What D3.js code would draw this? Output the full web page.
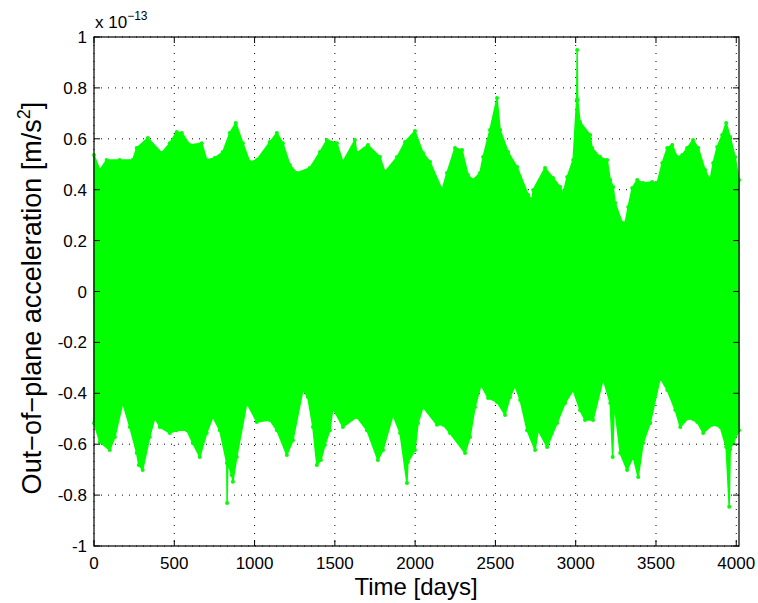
<!DOCTYPE html>
<html>
<head>
<meta charset="utf-8">
<script src="https://cdn.jsdelivr.net/npm/d3@7"></script>
<style>
  html, body { margin: 0; padding: 0; background: #fff; }
  svg { display: block; font-family: "Liberation Sans", Arial, Helvetica, sans-serif; }
</style>
</head>
<body>
<svg id="chart" width="758" height="603"></svg>
<script>
// ---- data (values in units of 1e-13 m/s^2; time in days) ----
const xTicks = [0, 500, 1000, 1500, 2000, 2500, 3000, 3500, 4000];
const xTickLabels = ["0", "500", "1000", "1500", "2000", "2500", "3000", "3500", "4000"];
const yTicks = [-1, -0.8, -0.6, -0.4, -0.2, 0, 0.2, 0.4, 0.6, 0.8, 1];
const yTickLabels = ["-1", "-0.8", "-0.6", "-0.4", "-0.2", "0", "0.2", "0.4", "0.6", "0.8", "1"];
const xMax = 4017;

// upper envelope of the oscillating series
const upperDay = [0,36,79,160,241,266,335,422,472,515,547,597,671,702,752,802,846,883,927,970,1014,1095,1139,1176,1220,1263,1344,1407,1450,1513,1550,1625,1637,1706,1781,1812,1887,1937,1999,2049,2093,2168,2198,2248,2292,2329,2360,2404,2423,2466,2510,2529,2579,2635,2704,2728,2735,2809,2859,2903,2922,2947,2984,3006,3009,3012,3027,3090,3102,3152,3196,3215,3233,3246,3290,3308,3327,3352,3383,3420,3476,3507,3539,3570,3601,3632,3663,3694,3731,3763,3806,3837,3856,3881,3912,3937,3962,3993,4017];
const upperVal = [0.536,0.477,0.517,0.517,0.517,0.564,0.603,0.544,0.583,0.627,0.623,0.576,0.583,0.517,0.525,0.548,0.623,0.662,0.583,0.509,0.517,0.587,0.623,0.583,0.497,0.466,0.485,0.548,0.595,0.583,0.509,0.595,0.544,0.576,0.528,0.470,0.528,0.587,0.631,0.544,0.509,0.399,0.466,0.564,0.556,0.458,0.438,0.466,0.528,0.635,0.760,0.635,0.548,0.489,0.379,0.360,0.399,0.485,0.446,0.411,0.387,0.450,0.517,0.752,0.949,0.752,0.666,0.615,0.564,0.528,0.517,0.438,0.411,0.348,0.269,0.269,0.332,0.407,0.438,0.426,0.430,0.426,0.505,0.564,0.576,0.528,0.536,0.564,0.595,0.564,0.477,0.438,0.505,0.568,0.615,0.662,0.607,0.528,0.438];

// lower envelope of the oscillating series
const lowerDay = [0,36,98,130,179,223,266,279,303,347,378,410,472,515,578,615,659,702,740,783,827,829,833,858,865,889,952,1014,1095,1139,1201,1239,1301,1332,1363,1388,1413,1438,1469,1488,1550,1637,1700,1768,1800,1862,1906,1949,1955,1999,2018,2049,2136,2174,2217,2311,2342,2373,2410,2454,2510,2560,2591,2622,2654,2697,2747,2766,2822,2884,2934,2984,3027,3058,3108,3171,3215,3230,3240,3277,3320,3358,3389,3420,3464,3526,3570,3620,3651,3701,3757,3794,3850,3900,3937,3956,3962,3981,4017];
const lowerVal = [-0.517,-0.591,-0.623,-0.572,-0.438,-0.532,-0.635,-0.682,-0.701,-0.572,-0.497,-0.532,-0.556,-0.545,-0.545,-0.595,-0.650,-0.556,-0.493,-0.545,-0.674,-0.831,-0.674,-0.721,-0.748,-0.650,-0.438,-0.513,-0.505,-0.545,-0.642,-0.584,-0.387,-0.415,-0.532,-0.682,-0.662,-0.603,-0.545,-0.458,-0.532,-0.493,-0.545,-0.662,-0.623,-0.485,-0.556,-0.752,-0.670,-0.623,-0.517,-0.454,-0.524,-0.524,-0.556,-0.635,-0.572,-0.454,-0.367,-0.418,-0.434,-0.485,-0.415,-0.371,-0.426,-0.545,-0.623,-0.545,-0.611,-0.517,-0.438,-0.387,-0.466,-0.505,-0.505,-0.344,-0.438,-0.650,-0.440,-0.635,-0.701,-0.650,-0.729,-0.595,-0.517,-0.340,-0.387,-0.466,-0.532,-0.497,-0.513,-0.556,-0.524,-0.532,-0.611,-0.846,-0.620,-0.595,-0.545];

// ---- layout ----
const L = 94, R = 739, T = 37, B = 546;
const svg = d3.select("#chart");
const x = d3.scaleLinear().domain([0, xMax]).range([L, R]);
const y = d3.scaleLinear().domain([-1, 1]).range([B, T]);
const green = "#00ff00";

// grid (under data)
const grid = svg.append("g");
grid.selectAll("line.gx").data(xTicks).enter().append("line")
  .attr("x1", d => x(d)).attr("x2", d => x(d)).attr("y1", T).attr("y2", B)
  .attr("stroke", "#000").attr("stroke-width", 1).attr("stroke-dasharray", "1,7");
grid.selectAll("line.gy").data(yTicks).enter().append("line")
  .attr("x1", L).attr("x2", R).attr("y1", d => y(d)).attr("y2", d => y(d))
  .attr("stroke", "#000").attr("stroke-width", 1).attr("stroke-dasharray", "1,6");

// data
const upperPts = upperDay.map((d, i) => [d, upperVal[i]]);
const lowerPts = lowerDay.map((d, i) => [d, lowerVal[i]]);
const poly = upperPts.concat(lowerPts.slice().reverse());
const line = d3.line().x(d => x(d[0])).y(d => y(d[1]));
const dataG = svg.append("g");
dataG.append("path")
  .attr("d", line(poly) + "Z")
  .attr("fill", green).attr("stroke", green).attr("stroke-width", 1.5)
  .attr("stroke-linejoin", "round");
dataG.selectAll("circle").data(upperPts.concat(lowerPts)).enter().append("circle")
  .attr("cx", d => x(d[0])).attr("cy", d => y(d[1])).attr("r", 2)
  .attr("fill", green);

// axes box and ticks
const ax = svg.append("g");
const tickLen = 6;
xTicks.forEach(t => {
  ax.append("line").attr("x1", x(t)).attr("x2", x(t)).attr("y1", B).attr("y2", B - tickLen).attr("stroke", "#000");
  ax.append("line").attr("x1", x(t)).attr("x2", x(t)).attr("y1", T).attr("y2", T + tickLen).attr("stroke", "#000");
});
yTicks.forEach(t => {
  ax.append("line").attr("x1", L).attr("x2", L + tickLen).attr("y1", y(t)).attr("y2", y(t)).attr("stroke", "#000");
  ax.append("line").attr("x1", R).attr("x2", R - tickLen).attr("y1", y(t)).attr("y2", y(t)).attr("stroke", "#000");
});
ax.append("rect").attr("x", L).attr("y", T).attr("width", R - L).attr("height", B - T)
  .attr("fill", "none").attr("stroke", "#000").attr("stroke-width", 1.2);

// tick labels
ax.selectAll("text.xl").data(xTicks).enter().append("text")
  .attr("x", d => x(d)).attr("y", 569).attr("text-anchor", "middle")
  .attr("font-size", 17).attr("fill", "#000")
  .text((d, i) => xTickLabels[i]);
ax.selectAll("text.yl").data(yTicks).enter().append("text")
  .attr("x", 87).attr("y", d => y(d) + 6).attr("text-anchor", "end")
  .attr("font-size", 17).attr("fill", "#000")
  .text((d, i) => yTickLabels[i]);

// exponent
const ex = svg.append("text").attr("x", 95).attr("y", 28).attr("font-size", 17).attr("fill", "#000");
ex.append("tspan").text("x 10");
ex.append("tspan").attr("font-size", 12).attr("dy", -8).text("\u221213");

// axis labels
svg.append("text").attr("x", 416).attr("y", 595).attr("text-anchor", "middle")
  .attr("font-size", 24).attr("fill", "#000").text("Time [days]");
const yl = svg.append("text").attr("transform", "translate(41,298) rotate(-90)")
  .attr("text-anchor", "middle").attr("font-size", 27).attr("fill", "#000");
yl.append("tspan").text("Out\u2212of\u2212plane acceleration [m/s");
yl.append("tspan").attr("font-size", 18).attr("dy", -11).text("2");
yl.append("tspan").attr("dy", 11).text("]");
</script>
</body>
</html>
